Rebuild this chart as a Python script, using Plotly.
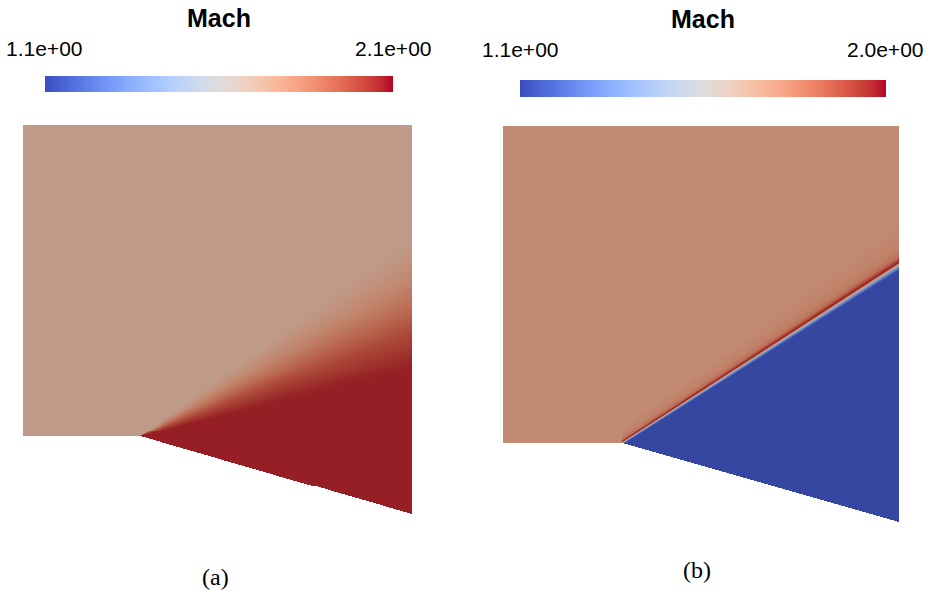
import numpy as np
import plotly.graph_objects as go

# ---------------- data ----------------
# domain geometry (physical units, expansion corner at the origin)
DOMAIN_X = [-0.3, 0.7]          # inlet start, outlet
DOMAIN_TOP = 0.8                # upper boundary
WALL_END_Y = -0.2               # wall height at the outlet (ramp goes down)

# (a) expansion fan: Mach vs. ray angle from the corner (deg)
FAN_ANGLE_DEG = [13, 15, 18, 21, 24, 27, 30, 33, 36]
FAN_MACH = [2.07, 2.06, 2.02, 1.98, 1.92, 1.86, 1.80, 1.76, 1.72]
MACH_IN_A = 1.72

# (b) expansion shock: Mach vs. normal offset from the discontinuity
SHOCK_ANGLE_DEG = 32.8
SHOCK_OFFSET = [-0.02, -0.005, -0.0028, -0.0012, 0.0, 0.0015, 0.003, 0.006, 0.012, 0.03]
SHOCK_MACH = [1.13, 1.13, 1.30, 1.45, 1.70, 1.98, 1.92, 1.80, 1.75, 1.72]
MACH_IN_B = 1.72

CBAR_A = [1.1, 2.1]
CBAR_B = [1.1, 2.0]
TICKS_A = ["1.1e+00", "2.1e+00"]
TICKS_B = ["1.1e+00", "2.0e+00"]
CAPTIONS = ["(a)", "(b)"]
CBAR_TITLE = "Mach"

# ---------------- colour maps ----------------
COOLWARM = [
    (59, 76, 192), (68, 90, 204), (77, 104, 215), (87, 117, 225), (98, 130, 234),
    (108, 142, 241), (119, 154, 247), (130, 165, 251), (141, 176, 254), (152, 185, 255),
    (163, 194, 255), (174, 201, 253), (184, 208, 249), (194, 213, 244), (204, 217, 238),
    (213, 219, 230), (221, 221, 221), (229, 216, 209), (236, 211, 197), (241, 204, 185),
    (245, 196, 173), (247, 187, 160), (247, 177, 148), (247, 166, 135), (244, 154, 123),
    (241, 141, 111), (236, 127, 99), (229, 112, 88), (222, 96, 77), (213, 80, 66),
    (203, 62, 56), (192, 40, 47), (180, 4, 38)]
SHADE = 0.78


def scale(colors, f=1.0):
    n = len(colors) - 1
    return [[i / n, "rgb(%d,%d,%d)" % tuple(int(round(c * f)) for c in col)]
            for i, col in enumerate(colors)]


CW = scale(COOLWARM)
CW_SHADED = scale(COOLWARM, SHADE)

# ---------------- fields ----------------
NX = NY = 396
x0, x1 = DOMAIN_X
y0, y1 = WALL_END_Y, DOMAIN_TOP
dx = (x1 - x0) / NX
dy = (y1 - y0) / NY
xc = x0 + (np.arange(NX) + 0.5) * dx
yc = y0 + (np.arange(NY) + 0.5) * dy
X, Y = np.meshgrid(xc, yc)
wall_slope = WALL_END_Y / x1
outside = ((X < 0) & (Y < 0)) | ((X >= 0) & (Y < wall_slope * X))

# (a)
theta = np.degrees(np.arctan2(Y, X))
ZA = np.interp(theta, FAN_ANGLE_DEG, FAN_MACH, left=FAN_MACH[0], right=MACH_IN_A)
ZA[X <= 0] = MACH_IN_A
ZA = np.where(outside, np.nan, np.round(ZA, 3))

# (b)
ang = np.radians(SHOCK_ANGLE_DEG)
d = -np.sin(ang) * X + np.cos(ang) * Y        # signed normal distance (+ upstream)
r = np.clip(np.cos(ang) * X + np.sin(ang) * Y, 0, None)
widen = 1.0 + 1.6 * r / (x1 / np.cos(ang))
ZB = np.interp(d / widen, SHOCK_OFFSET, SHOCK_MACH)
ZB[X <= 0] = MACH_IN_B
ZB = np.where(outside, np.nan, np.round(ZB, 3))

# ---------------- figure ----------------
W, H = 937, 592
fig = go.Figure()

panels = [
    dict(z=ZA, cb=CBAR_A, xa="x", ya="y"),
    dict(z=ZB, cb=CBAR_B, xa="x2", ya="y2"),
]
for p in panels:
    fig.add_trace(go.Heatmap(
        z=p["z"], x0=x0 + dx / 2, dx=dx, y0=y0 + dy / 2, dy=dy,
        colorscale=CW_SHADED, zmin=p["cb"][0], zmax=p["cb"][1],
        zsmooth=False, showscale=False, hoverinfo="skip",
        xaxis=p["xa"], yaxis=p["ya"]))

# colour bars (pixel placement)
cbars = [
    dict(cb=CBAR_A, cx=219, top=76, length=348, thick=16, xa="x", ya="y"),
    dict(cb=CBAR_B, cx=703, top=80, length=366, thick=17, xa="x2", ya="y2"),
]
for c in cbars:
    fig.add_trace(go.Scatter(
        x=[0], y=[0.5], mode="markers", opacity=0, hoverinfo="skip",
        showlegend=False, xaxis=c["xa"], yaxis=c["ya"],
        marker=dict(size=1, color=[c["cb"][0]], colorscale=CW,
                    cmin=c["cb"][0], cmax=c["cb"][1], showscale=True,
                    colorbar=dict(orientation="h", lenmode="pixels", len=c["length"],
                                  thicknessmode="pixels", thickness=c["thick"],
                                  x=c["cx"] / W, xanchor="center",
                                  y=1 - c["top"] / H, yanchor="top",
                                  xpad=0, ypad=0, outlinewidth=0,
                                  showticklabels=False, ticks=""))))

ax_common = dict(visible=False, showgrid=False, zeroline=False, fixedrange=True)
fig.update_layout(
    width=W, height=H, margin=dict(l=0, r=0, t=0, b=0),
    paper_bgcolor="white", plot_bgcolor="white", showlegend=False,
    xaxis=dict(domain=[23 / W, 412 / W], range=DOMAIN_X, **ax_common),
    yaxis=dict(domain=[1 - 514 / H, 1 - 125 / H], range=[y0, y1], **ax_common),
    xaxis2=dict(domain=[503 / W, 899 / W], range=DOMAIN_X, **ax_common),
    yaxis2=dict(domain=[1 - 522 / H, 1 - 126 / H], range=[y0, y1], **ax_common),
)

ann = []
sans = "Liberation Sans, Arial, sans-serif"
for cx, cy in [(219, 18), (703, 19)]:
    ann.append(dict(text="<b>%s</b>" % CBAR_TITLE, x=cx / W, y=1 - cy / H,
                    font=dict(family=sans, size=25, color="black")))
for (lx, rx, cy), labels in [((44, 393, 48), TICKS_A), ((520, 885, 50), TICKS_B)]:
    ann.append(dict(text=labels[0], x=lx / W, y=1 - cy / H,
                    font=dict(family=sans, size=21, color="black")))
    ann.append(dict(text=labels[1], x=rx / W, y=1 - cy / H,
                    font=dict(family=sans, size=21, color="black")))
for (cx, cy), t in zip([(215, 577), (697, 570)], CAPTIONS):
    ann.append(dict(text=t, x=cx / W, y=1 - cy / H,
                    font=dict(family="Liberation Serif, Times New Roman, serif",
                              size=24, color="black")))
for a in ann:
    a.update(xref="paper", yref="paper", showarrow=False,
             xanchor="center", yanchor="middle")
fig.update_layout(annotations=ann)

fig.write_html("out.html")
